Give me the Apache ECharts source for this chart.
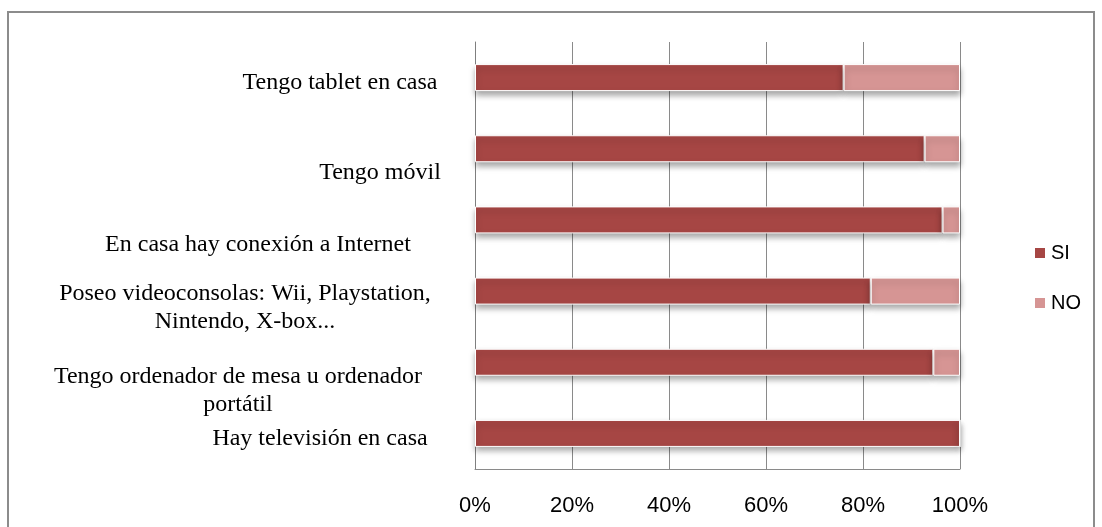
<!DOCTYPE html>
<html>
<head>
<meta charset="utf-8">
<script src="https://cdn.jsdelivr.net/npm/echarts@6/dist/echarts.min.js"></script>
<style>
  html, body { margin: 0; padding: 0; background: #fff; }
  #chart { width: 1102px; height: 527px; }
</style>
</head>
<body>
<div id="chart"></div>
<script>
// categories, top to bottom
const categories = [
  'Tengo tablet en casa',
  'Tengo móvil',
  'En casa hay conexión a Internet',
  'Poseo videoconsolas: Wii, Playstation,\nNintendo, X-box...',
  'Tengo ordenador de mesa u ordenador\nportátil',
  'Hay televisión en casa'
]
const siValues = [76, 92.7, 96.4, 81.6, 94.5, 100]
const noValues = [24, 7.3, 3.6, 18.4, 5.5, 0]
const tickLabels = ['0%', '20%', '40%', '60%', '80%', '100%']

// the labels in the original sit a bit off from their bars, shift them like that
const labelShift = [
  [40, 5], [80, 24], [-42, 25], [-55, 17], [-62, 28], [20, 5]
]

const rich = {}
labelShift.forEach(([dx, dy], i) => {
  rich['t' + i] = {
    padding: [dy * 2, Math.max(-dx, 0) * 2, 0, Math.max(dx, 0) * 2],
    fontFamily: 'Liberation Serif',
    fontSize: 24,
    lineHeight: 28,
    color: '#000'
  }
})

const chart = echarts.init(document.getElementById('chart'))

const barShadow = {
  shadowColor: 'rgba(0,0,0,0.35)',
  shadowBlur: 6,
  shadowOffsetY: 4,
  borderColor: '#fff',
  borderWidth: 1
}

chart.setOption({
  animation: false,
  graphic: [{
    type: 'rect',
    shape: { x: 8, y: 12, width: 1086, height: 540 },
    style: { fill: 'none', stroke: '#8c8c8c', lineWidth: 2 }
  }],
  grid: { left: 475, right: 142, top: 42, bottom: 58, outerBoundsMode: 'none', containLabel: false },
  legend: {
    orient: 'vertical',
    left: 1028,
    top: 238,
    icon: 'rect',
    itemWidth: 12,
    itemHeight: 12,
    itemGap: 30,
    textStyle: { fontFamily: 'Liberation Sans', fontSize: 20, color: '#000' },
    data: ['SI', 'NO']
  },
  xAxis: {
    type: 'value',
    min: 0,
    max: 100,
    interval: 20,
    axisLine: { show: true, lineStyle: { color: '#8a8a8a', width: 1 } },
    axisTick: { show: false },
    splitLine: { lineStyle: { color: '#8a8a8a', width: 1 } },
    axisLabel: {
      margin: 26,
      fontFamily: 'Liberation Sans',
      fontSize: 22,
      color: '#000',
      formatter: (v) => tickLabels[v / 20]
    }
  },
  yAxis: {
    type: 'category',
    inverse: true,
    data: categories,
    axisLine: { show: true, lineStyle: { color: '#7f7f7f', width: 1 } },
    axisTick: { show: false },
    axisLabel: {
      margin: 175,
      align: 'center',
      interval: 0,
      hideOverlap: false,
      formatter: (val, idx) => val.split('\n')
        .map((line) => '{t' + idx + '|' + line + '}')
        .join('\n'),
      rich: rich
    }
  },
  series: [
    {
      name: 'SI',
      type: 'bar',
      stack: 'total',
      barWidth: 27,
      itemStyle: Object.assign({ color: '#a64644' }, barShadow),
      data: siValues
    },
    {
      name: 'NO',
      type: 'bar',
      stack: 'total',
      barWidth: 27,
      itemStyle: Object.assign({ color: '#d69594' }, barShadow),
      data: noValues
    }
  ]
})
</script>
</body>
</html>
